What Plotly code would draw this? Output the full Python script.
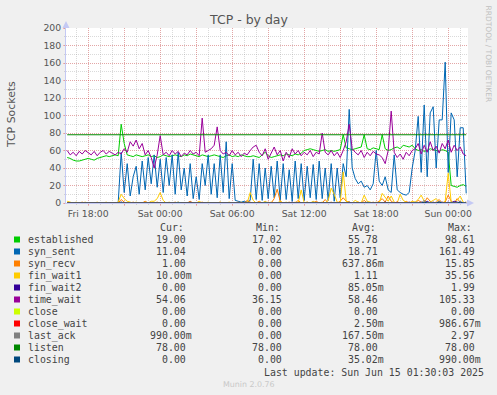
import pandas as pd
import plotly.graph_objects as go

# ---------------- data (15-minute samples, Fri 16:15 -> Sun 01:30) ----------------
times = pd.date_range("2025-06-13 16:15", periods=134, freq="15min")

established = [52, 51, 49, 48, 48, 49, 50, 51, 50, 49,
               51, 52, 53, 54, 53, 54, 55, 54,
               90, 68, 55,
               54, 53, 55, 54, 53, 54, 55, 53, 54, 52, 53, 55, 54, 53, 54, 55, 54, 53, 55, 54,
               56, 55, 54, 53, 55, 54, 53, 54, 55, 54, 53, 52, 54, 55, 53, 54, 53, 55, 54, 53,
               53, 54, 53, 52, 55, 58, 54, 52, 53, 54,
               55, 54, 56, 55, 54, 56, 55, 57,
               60, 61, 62, 61, 60, 59, 60, 61, 59, 60, 59, 60, 61,
               78,
               63, 62, 61, 62, 63, 64,
               78,
               62, 61, 63, 62, 61,
               78,
               62, 60, 61, 63, 64, 62, 66, 65, 64, 66,
               62, 60, 61, 59, 60, 62, 61, 60, 59, 61, 60, 58,
               20, 19, 18, 20, 21, 19]

syn_sent = [0, 0, 0, 0, 0, 0, 0, 0, 0, 0, 0, 0, 0, 0, 0, 0, 0, 0,
            58, 12, 45, 8, 30, 42, 10, 48, 15, 52, 22, 55, 18, 50, 12, 52,
            20, 55, 10, 58, 15, 40, 8, 45, 5, 30, 4, 45, 20, 55, 10, 45,
            6, 55, 12, 70, 5, 45, 3, 2, 1, 2, 1, 3,
            50, 4, 45, 3, 40, 5, 42, 6, 48, 3, 45, 4, 38, 2, 48, 5,
            45, 3, 42, 6, 44, 4, 48, 5, 40, 3, 45, 2, 40, 6, 45, 30,
            107, 40, 28, 22, 25, 18, 20, 15, 22, 60, 25, 20, 30, 15, 12, 55,
            15, 12, 10, 9, 12, 40, 60, 99, 35, 112, 30, 103, 110, 40, 95, 95,
            161, 35, 103, 95, 30, 86, 86, 11]

syn_recv = [0, 0, 0, 0, 0, 1, 0, 0, 0, 0, 0, 0, 0, 0, 0, 0, 0, 0,
            4, 1,
            0, 0, 1, 0, 0, 0, 2, 0, 0, 0, 1, 0, 0, 0,
            0, 0, 1, 0, 0, 0, 0, 2, 0, 0, 0, 1, 0, 0, 0, 0, 0, 1, 0, 0, 0, 0, 0, 1, 0, 0, 3,
            1, 0, 0, 2, 0, 0, 1, 0, 5,
            15.85,
            2, 0, 0, 1, 0, 0, 3, 0, 0, 1, 0, 0, 2, 0, 0, 4, 0, 1, 0, 0, 2,
            6, 2, 1, 0, 0, 1, 0, 3, 0, 0, 1, 0, 2, 5, 1, 8, 2, 0, 1, 0, 0, 2, 0, 1,
            0, 3, 1, 0, 6, 2, 0, 1, 4, 0, 1, 9, 2, 0, 5, 1, 0, 1]

fin_wait1 = [2, 1, 0, 1, 0, 0, 1, 0, 0, 0, 1, 0, 0, 1, 0, 0, 0, 1,
             10, 5, 2, 1, 0, 1, 0, 0, 1, 0, 2, 2, 5, 12, 3,
             0, 1, 0, 0, 1, 0, 0, 0, 1, 0, 0, 2, 0, 0, 1, 0, 0, 0, 1, 0, 0, 1, 0, 0, 0, 1, 0, 0,
             12,
             3, 0, 1, 0, 2, 0, 1, 0, 0, 2, 0, 1, 0, 0, 1, 0, 15, 0, 1, 0, 2, 0, 0, 1, 0, 3, 17, 10, 1, 0,
             35.56,
             2, 1, 0, 3, 1, 0, 9, 2, 1, 0, 1, 0,
             11, 6, 2, 8, 1, 0, 10, 3, 1, 0, 2,
             1, 4, 9, 2, 0, 1, 3, 5, 1, 0, 2, 34, 1, 0, 3, 8, 1, 0]

fin_wait2 = [0, 0, 0, 0, 0, 0, 0, 0, 0, 0,
             0, 0, 0, 0, 0, 0, 0, 0, 1, 0,
             0, 0, 0, 0, 0, 0, 0, 0, 0, 0,
             0, 0, 0, 0, 0, 0, 0, 0, 0, 0,
             0, 1, 0, 0, 0, 0, 0, 0, 0, 0,
             0, 0, 0, 0, 0, 0, 0, 0, 0, 0,
             0, 0, 0, 0, 0, 0, 0, 0, 0, 0,
             0, 0, 0, 0, 0, 1, 0, 0, 0, 0,
             0, 0, 0, 0, 0, 0, 0, 0, 0, 0,
             0, 0, 0, 0, 1, 0, 0, 0, 0, 0,
             0, 0, 0, 0, 0, 0, 1, 0, 0, 0,
             0, 0, 0, 0, 1, 0, 0, 0, 1, 0,
             2, 0, 1, 0, 0, 1, 0, 1, 0, 2,
             1, 0, 0, 0]

time_wait = [60, 55, 58, 54, 59, 56, 60, 57, 55, 59, 54, 58, 60, 56, 59, 57, 55, 58,
             56, 62, 58,
             70, 65, 72, 62, 68,
             55, 60, 52, 40, 55, 77, 55,
             58, 54, 60, 56, 59, 53, 57, 55, 60, 56, 58, 54,
             97,
             58, 60, 62, 66,
             87,
             60, 56, 58, 54, 60, 55, 58, 53, 57, 55,
             60, 64, 66, 58, 54, 62, 50, 58, 64, 55, 60, 48, 58, 52, 62, 56, 60, 54, 58, 55, 60, 53, 58, 56,
             80,
             58, 55, 60, 54, 58, 52,
             60, 70, 90, 62, 58,
             55, 60, 52, 58, 54, 59, 56, 55,
             52, 45, 60, 105, 58, 52, 56, 50, 58, 54, 60,
             62, 68, 56, 66, 58, 70, 60, 65, 57, 68, 62, 72, 58, 66, 60, 64, 56, 54]

close = [0] * 134

close_wait = [0, 0, 0, 0, 0, 0, 0, 0, 0, 0,
              0, 0, 0, 0, 0, 0, 0, 0, 0, 0,
              0, 0, 0, 0, 0, 0, 0, 0, 0, 0,
              0, 0, 0, 0, 0, 0, 0, 0, 0, 0,
              0, 0, 0, 0, 0, 0, 0, 0, 0, 0,
              0, 0, 0, 0, 0, 0, 0, 0, 0, 0,
              0, 0, 0, 0, 0, 0, 0, 0, 0, 0,
              0, 0, 0, 0, 0, 0, 0, 0, 0, 0,
              0, 0, 0, 0, 0, 0, 0, 0, 0, 0,
              0, 0, 0, 0, 0, 0, 0, 0, 0, 0,
              0, 0, 0, 0, 0, 0, 0, 0, 0, 0,
              1, 0, 0, 0, 0, 0, 0, 0, 0, 0,
              0, 0, 0, 0, 0, 0, 0, 0, 0, 0,
              0, 0, 0, 0]

last_ack = [0, 0, 0, 0, 0, 0, 0, 0, 0, 0,
            0, 0, 0, 0, 0, 0, 0, 0, 1, 0,
            0, 0, 0, 0, 0, 0, 0, 0, 0, 0,
            0, 0, 0, 0, 0, 0, 0, 1, 0, 0,
            0, 0, 0, 0, 0, 0, 0, 0, 0, 0,
            0, 0, 0, 0, 0, 0, 0, 0, 0, 0,
            0, 0, 0, 0, 0, 0, 1, 0, 0, 0,
            0, 0, 0, 0, 0, 0, 0, 0, 0, 0,
            0, 0, 1, 0, 0, 0, 0, 0, 0, 0,
            0, 0, 0, 0, 0, 0, 0, 0, 0, 0,
            1, 0, 0, 0, 0, 0, 0, 0, 0, 0,
            0, 0, 0, 0, 0, 0, 1, 0, 0, 2.97,
            0, 1, 0, 0, 2, 0, 0, 0, 1, 0,
            0, 2, 0, 0.99]

listen = [78] * 134

closing = [0, 0, 0, 0, 0, 0, 0, 0, 0, 0,
           0, 0, 0, 0, 0, 0, 0, 0, 0, 0,
           0, 0, 0, 0, 0, 0, 0, 0, 0, 0,
           0, 0, 0, 0, 0, 0, 0, 0, 0, 0,
           0, 0, 0, 0, 0, 0, 0, 0, 0, 0,
           0, 0, 0, 0, 0, 0, 0, 0, 0, 0,
           0, 0, 0, 0, 0, 0, 0, 0, 0, 0,
           0, 0, 0, 0, 0, 0, 0, 0, 0, 0,
           0, 0, 0, 0, 0, 0, 0, 0, 0, 0,
           0, 0, 0, 0, 0, 0, 0, 0, 0, 0,
           0, 0, 0, 0, 0, 0, 0, 0, 0, 0,
           0, 0, 0, 0, 0, 0, 0, 0, 0, 0.99,
           0, 0, 0, 0, 0.99, 0, 0, 0, 0, 0,
           0, 0.99, 0, 0]

names = ["established", "syn_sent", "syn_recv", "fin_wait1", "fin_wait2", "time_wait",
         "close", "close_wait", "last_ack", "listen", "closing"]
colors = ["#00cc00", "#0066b3", "#ff8000", "#ffcc00", "#330099", "#990099",
          "#ccff00", "#ff0000", "#808080", "#008800", "#00487d"]
cur_vals = ["19.00", "11.04", "1.00", "10.00m", "0.00", "54.06", "0.00", "0.00", "990.00m", "78.00", "0.00"]
min_vals = ["17.02", "0.00", "0.00", "0.00", "0.00", "36.15", "0.00", "0.00", "0.00", "78.00", "0.00"]
avg_vals = ["55.78", "18.71", "637.86m", "1.11", "85.05m", "58.46", "0.00", "2.50m", "167.50m", "78.00", "35.02m"]
max_vals = ["98.61", "161.49", "15.85", "35.56", "1.99", "105.33", "0.00", "986.67m", "2.97", "78.00", "990.00m"]

x_tick_vals = ["2025-06-13 18:00", "2025-06-13 21:00", "2025-06-14 00:00", "2025-06-14 03:00",
               "2025-06-14 06:00", "2025-06-14 09:00", "2025-06-14 12:00", "2025-06-14 15:00",
               "2025-06-14 18:00", "2025-06-14 21:00", "2025-06-15 00:00"]
x_tick_text = ["Fri 18:00", "", "Sat 00:00", "", "Sat 06:00", "", "Sat 12:00", "",
               "Sat 18:00", "", "Sun 00:00"]
y_tick_vals = [0, 20, 40, 60, 80, 100, 120, 140, 160, 180, 200]

series = [established, syn_sent, syn_recv, fin_wait1, fin_wait2, time_wait,
          close, close_wait, last_ack, listen, closing]
for s in series:
    assert len(s) == len(times), len(s)

# ---------------- layout geometry (pixels) ----------------
W, H = 497, 395
PL, PR, PT, PB = 66, 468, 28, 203


def px(x):
    return (x - PL) / (PR - PL)


def py(y):
    return (PB - y) / (PB - PT)


TXT = "#444444"
MONO = "DejaVu Sans Mono"
SANS = "DejaVu Sans"
MAJOR = "rgba(255,0,0,0.24)"
MINOR = "rgba(140,140,140,0.32)"
AXIS = "#c4c9f4"

fig = go.Figure()
for name, col, s in zip(names, colors, series):
    fig.add_trace(go.Scatter(x=times, y=s, mode="lines", name=name,
                             line=dict(color=col, width=1), hoverinfo="skip"))

annotations = []
shapes = []

# title and side texts
annotations.append(dict(text="TCP - by day", x=px(248.5), y=py(19), xref="paper", yref="paper",
                        showarrow=False, xanchor="center", yanchor="middle",
                        font=dict(family=SANS, size=12.5, color="#555555")))
annotations.append(dict(text="TCP Sockets", x=px(11), y=py(115), xref="paper", yref="paper",
                        showarrow=False, xanchor="center", yanchor="middle", textangle=-90,
                        font=dict(family=SANS, size=10.9, color="#555555")))
annotations.append(dict(text="RRDTOOL / TOBI OETIKER", x=px(488), y=py(53.5), xref="paper", yref="paper",
                        showarrow=False, xanchor="center", yanchor="middle", textangle=90,
                        font=dict(family=SANS, size=7.5, color="#c0c0c0")))
annotations.append(dict(text="Munin 2.0.76", x=px(249), y=py(384), xref="paper", yref="paper",
                        showarrow=False, xanchor="center", yanchor="middle",
                        font=dict(family=SANS, size=7.9, color="#c8c8c8")))

# legend header
for label, lx in zip(["Cur:", "Min:", "Avg:", "Max:"], [158.3, 253.6, 350.3, 446.3]):
    annotations.append(dict(text=label, x=px(lx), y=py(227.3), xref="paper", yref="paper",
                            showarrow=False, xanchor="left", yanchor="middle",
                            font=dict(family=MONO, size=9.9, color=TXT)))


def fmt(v):
    return v if v.endswith("m") else v + "\u00a0"


col_right = [193.9, 290.4, 386.1, 482.9]
for k, name in enumerate(names):
    ry = 239.5 + 12 * k
    shapes.append(dict(type="rect", xref="paper", yref="paper",
                       x0=px(14), x1=px(20), y0=py(ry + 3), y1=py(ry - 3),
                       fillcolor=colors[k], line=dict(width=0)))
    annotations.append(dict(text=name, x=px(26.3), y=py(ry), xref="paper", yref="paper",
                            showarrow=False, xanchor="left", yanchor="middle",
                            font=dict(family=MONO, size=9.9, color=TXT)))
    for vals, cx in zip([cur_vals, min_vals, avg_vals, max_vals], col_right):
        annotations.append(dict(text=fmt(vals[k]), x=px(cx), y=py(ry), xref="paper", yref="paper",
                                showarrow=False, xanchor="right", yanchor="middle",
                                font=dict(family=MONO, size=9.9, color=TXT)))

annotations.append(dict(text="Last update: Sun Jun 15 01:30:03 2025", x=px(261.8), y=py(372.7),
                        xref="paper", yref="paper", showarrow=False, xanchor="left", yanchor="middle",
                        font=dict(family=MONO, size=9.9, color=TXT)))

# axis arrows
shapes.append(dict(type="path", xref="paper", yref="paper",
                   path=f"M {px(62.5)},{py(28)} L {px(69.5)},{py(28)} L {px(66)},{py(21)} Z",
                   fillcolor=AXIS, line=dict(width=0)))
shapes.append(dict(type="path", xref="paper", yref="paper",
                   path=f"M {px(467)},{py(199.5)} L {px(467)},{py(206.5)} L {px(474)},{py(203)} Z",
                   fillcolor=AXIS, line=dict(width=0)))

fig.update_layout(
    width=W, height=H,
    margin=dict(l=PL, r=W - PR, t=PT, b=H - PB, pad=0),
    paper_bgcolor="#f0f0f0", plot_bgcolor="#ffffff",
    showlegend=False,
    annotations=annotations, shapes=shapes,
    font=dict(family=SANS, color="#555555"),
)
fig.update_xaxes(
    range=["2025-06-13 16:09", "2025-06-15 01:39"],
    tickmode="array", tickvals=x_tick_vals, ticktext=x_tick_text,
    showgrid=True, gridcolor=MAJOR, griddash="1px,1px", gridwidth=1,
    ticks="outside", ticklen=2, tickcolor=MAJOR,
    minor=dict(dtick=3600000, tick0="2025-06-13 00:00", showgrid=True, gridcolor=MINOR,
               griddash="1px,1px", ticks="outside", ticklen=1, tickcolor=MINOR),
    showline=True, linecolor=AXIS, linewidth=1,
    zeroline=False,
    tickfont=dict(family=SANS, size=9.3, color="#555555"),
)
fig.update_yaxes(
    range=[0, 200], tickmode="array", tickvals=y_tick_vals,
    showgrid=True, gridcolor=MAJOR, griddash="1px,1px", gridwidth=1,
    ticks="outside", ticklen=2, tickcolor=MAJOR,
    minor=dict(dtick=10, showgrid=True, gridcolor=MINOR, griddash="1px,1px",
               ticks="outside", ticklen=1, tickcolor=MINOR),
    showline=True, linecolor=AXIS, linewidth=1,
    zeroline=False,
    tickfont=dict(family=SANS, size=9.3, color="#555555"),
)

fig.write_html("out.html",
               config={"displayModeBar": False, "staticPlot": True},
               post_script="document.body.style.margin='0';document.body.style.background='#f0f0f0';")
